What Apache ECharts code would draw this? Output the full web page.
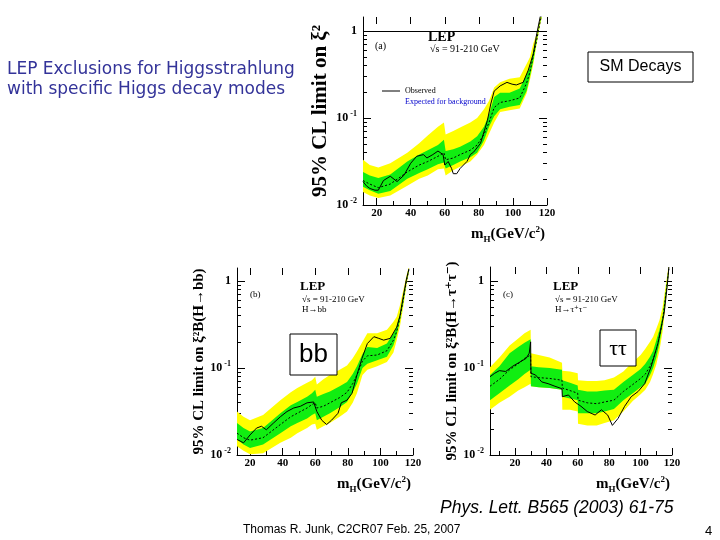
<!DOCTYPE html>
<html>
<head>
<meta charset="utf-8">
<script src="https://cdn.jsdelivr.net/npm/echarts@6/dist/echarts.min.js"></script>
<style>
  html, body { margin: 0; padding: 0; background: #fff; }
  #chart { width: 720px; height: 540px; }
</style>
</head>
<body>
<div id="chart"></div>
<script>
// ---- data ----
// (a) SM decays
const massA      = [12, 16, 21, 28, 38, 45, 50, 56, 59.5, 60.5, 65, 69, 75, 79, 83, 86, 89, 92.5, 98, 104, 108, 110, 112, 114, 116, 117];
const yellowHiA  = [0.0331, 0.0288, 0.0269, 0.0302, 0.0398, 0.0513, 0.0631, 0.0794, 0.0891, 0.0646, 0.0708, 0.0776, 0.0891, 0.100, 0.126, 0.158, 0.224, 0.257, 0.282, 0.295, 0.417, 0.501, 0.724, 0.933, 1.45, 1.74];
const yellowLoA  = [0.0141, 0.0129, 0.0120, 0.0129, 0.0166, 0.0200, 0.0219, 0.0257, 0.0263, 0.0219, 0.0251, 0.0275, 0.0316, 0.0380, 0.0490, 0.0661, 0.0891, 0.117, 0.123, 0.129, 0.191, 0.275, 0.417, 0.724, 1.20, 1.45];
const greenHiA   = [0.0240, 0.0219, 0.0204, 0.0224, 0.0316, 0.0380, 0.0427, 0.0490, 0.0562, 0.0417, 0.0437, 0.0468, 0.0537, 0.0617, 0.0794, 0.110, 0.174, 0.195, 0.195, 0.219, 0.316, 0.389, 0.603, 0.832, 1.32, 1.58];
const greenLoA   = [0.0162, 0.0148, 0.0135, 0.0145, 0.0200, 0.0234, 0.0257, 0.0295, 0.0309, 0.0263, 0.0288, 0.0316, 0.0355, 0.0398, 0.0550, 0.0794, 0.105, 0.126, 0.135, 0.141, 0.204, 0.302, 0.457, 0.776, 1.26, 1.51];
const expectedA  = [0.0191, 0.0174, 0.0158, 0.0174, 0.0240, 0.0288, 0.0316, 0.0363, 0.0398, 0.0331, 0.0347, 0.0380, 0.0427, 0.0490, 0.0646, 0.0891, 0.132, 0.151, 0.158, 0.170, 0.251, 0.339, 0.525, 0.794, 1.29, 1.55];
const obsMassA   = [12, 14, 16, 19, 21, 24, 28, 32, 36, 40, 43.5, 47.5, 49.5, 53, 56, 59, 60, 62, 64, 65, 67, 69, 73, 75, 77, 81, 85, 87, 89, 92.5, 96.5, 99.5, 102, 106, 109, 112, 114, 116, 117];
const observedA  = [0.0186, 0.0166, 0.0155, 0.0148, 0.0148, 0.0191, 0.0214, 0.0186, 0.0219, 0.0302, 0.0363, 0.0380, 0.0347, 0.0380, 0.0417, 0.0380, 0.0288, 0.0316, 0.0263, 0.0229, 0.0229, 0.0263, 0.0316, 0.0380, 0.0407, 0.0513, 0.0933, 0.145, 0.204, 0.234, 0.257, 0.245, 0.240, 0.257, 0.355, 0.550, 0.933, 1.45, 1.74];

// (b) H -> bb
const massB      = [12, 16, 20, 28, 38.6, 45, 49, 55, 58, 60, 61, 65, 69, 75, 79.5, 83, 85.6, 89, 92, 98, 104, 108, 110, 112, 114, 116, 117.5];
const yellowHiB  = [0.0316, 0.0275, 0.0251, 0.0288, 0.0427, 0.0525, 0.0589, 0.0676, 0.0724, 0.0794, 0.0646, 0.0741, 0.0832, 0.0955, 0.107, 0.129, 0.155, 0.200, 0.251, 0.251, 0.275, 0.339, 0.389, 0.525, 0.776, 1.15, 1.48];
const yellowLoB  = [0.0126, 0.0112, 0.0102, 0.0105, 0.0138, 0.0158, 0.0178, 0.0204, 0.0224, 0.0229, 0.0195, 0.0214, 0.0234, 0.0275, 0.0316, 0.0398, 0.0513, 0.0832, 0.0955, 0.105, 0.117, 0.151, 0.209, 0.302, 0.501, 0.891, 1.26];
const greenHiB   = [0.0234, 0.0204, 0.0186, 0.0204, 0.0302, 0.0372, 0.0407, 0.0468, 0.0513, 0.0562, 0.0468, 0.0501, 0.0537, 0.0617, 0.0692, 0.0851, 0.105, 0.145, 0.174, 0.170, 0.191, 0.251, 0.295, 0.417, 0.661, 1.05, 1.38];
const greenLoB   = [0.0151, 0.0132, 0.0120, 0.0132, 0.0178, 0.0214, 0.0234, 0.0263, 0.0288, 0.0302, 0.0251, 0.0275, 0.0302, 0.0355, 0.0407, 0.0525, 0.0661, 0.100, 0.112, 0.123, 0.135, 0.182, 0.240, 0.355, 0.562, 0.977, 1.32];
const expectedB  = [0.0178, 0.0158, 0.0148, 0.0158, 0.0224, 0.0275, 0.0302, 0.0347, 0.0380, 0.0398, 0.0347, 0.0363, 0.0398, 0.0457, 0.0525, 0.0661, 0.0832, 0.120, 0.138, 0.141, 0.158, 0.209, 0.263, 0.380, 0.603, 1.00, 1.35];
const obsMassB   = [12, 16, 20, 24, 27, 30, 34.5, 38.6, 42.7, 46.8, 50.9, 55, 59, 61, 64, 67, 70, 74, 76, 79.5, 82.6, 85.6, 88.7, 92, 96, 99, 102, 106, 110, 112, 114, 116, 117.5];
const observedB  = [0.0151, 0.0138, 0.0170, 0.0204, 0.0214, 0.0195, 0.0234, 0.0275, 0.0316, 0.0347, 0.0363, 0.0398, 0.0407, 0.0316, 0.0251, 0.0224, 0.0251, 0.0302, 0.0398, 0.0427, 0.0513, 0.0832, 0.129, 0.191, 0.229, 0.219, 0.209, 0.219, 0.295, 0.398, 0.661, 1.05, 1.38];

// (c) H -> tau tau
const massC      = [4, 10, 16.5, 22, 26, 29.9, 30.1, 35, 42, 49.9, 50.1, 55, 59.9, 60.1, 66, 72, 77, 83, 89, 95, 100, 103, 106, 108, 110, 112, 114, 116, 118];
const yellowHiC  = [0.102, 0.132, 0.182, 0.219, 0.251, 0.275, 0.148, 0.141, 0.132, 0.115, 0.0933, 0.0912, 0.0871, 0.0724, 0.0708, 0.0708, 0.0724, 0.0776, 0.0912, 0.117, 0.141, 0.166, 0.200, 0.229, 0.282, 0.355, 0.501, 0.891, 1.58];
const yellowLoC  = [0.0331, 0.0398, 0.0468, 0.0550, 0.0603, 0.0661, 0.0617, 0.0603, 0.0589, 0.0562, 0.0331, 0.0331, 0.0316, 0.0229, 0.0219, 0.0219, 0.0234, 0.0251, 0.0316, 0.0417, 0.0501, 0.0562, 0.0692, 0.0851, 0.110, 0.158, 0.263, 0.562, 1.26];
const greenHiC   = [0.0832, 0.105, 0.148, 0.174, 0.195, 0.214, 0.105, 0.102, 0.100, 0.0955, 0.0724, 0.0676, 0.0631, 0.0562, 0.0537, 0.0537, 0.0550, 0.0562, 0.0692, 0.0832, 0.0977, 0.112, 0.135, 0.158, 0.209, 0.275, 0.398, 0.759, 1.45];
const greenLoC   = [0.0427, 0.0513, 0.0631, 0.0741, 0.0851, 0.0955, 0.0617, 0.0603, 0.0589, 0.0562, 0.0468, 0.0447, 0.0427, 0.0302, 0.0302, 0.0302, 0.0316, 0.0339, 0.0427, 0.0513, 0.0603, 0.0661, 0.0832, 0.100, 0.132, 0.191, 0.316, 0.631, 1.32];
const expectedC  = [0.0617, 0.0741, 0.0955, 0.112, 0.129, 0.141, 0.0794, 0.0776, 0.0759, 0.0724, 0.0589, 0.0550, 0.0513, 0.0427, 0.0398, 0.0389, 0.0407, 0.0427, 0.0537, 0.0646, 0.0759, 0.0851, 0.105, 0.126, 0.162, 0.229, 0.355, 0.692, 1.38];
const obsMassC   = [4, 7, 10, 14, 18.5, 23, 27, 29, 29.9, 30.1, 33, 37, 41, 45.4, 48.6, 49.9, 50.1, 54, 58, 62, 66, 71, 75, 79, 82, 83, 85.6, 89.8, 94, 98.4, 102.6, 106.8, 111, 115, 117, 118];
const observedC  = [0.0794, 0.0871, 0.0933, 0.0912, 0.105, 0.117, 0.129, 0.148, 0.200, 0.0871, 0.0832, 0.0692, 0.0661, 0.0617, 0.0589, 0.0575, 0.0468, 0.0490, 0.0407, 0.0363, 0.0316, 0.0288, 0.0331, 0.0288, 0.0219, 0.0214, 0.0263, 0.0363, 0.0468, 0.0537, 0.0661, 0.105, 0.191, 0.427, 0.891, 1.45];

// ticks
const xMajorTicks = [20, 40, 60, 80, 100, 120];
const xMinorTicks = [10, 30, 50, 70, 90, 110];
const yMajorTicks = [0.01, 0.1, 1];
const yMinorTicks = [0.02, 0.03, 0.04, 0.05, 0.06, 0.07, 0.08, 0.09, 0.2, 0.3, 0.4, 0.5, 0.6, 0.7, 0.8, 0.9];

const SERIF = '"Liberation Serif", "DejaVu Serif", serif';
const SANS = '"Liberation Sans", Arial, sans-serif';
const YELLOW = '#ffff00';
const GREEN = '#11ee11';

const panels = [
  { grid: { left: 363, top: 17, width: 184, height: 188 }, xmin: 12, ymax: 1.45, yName: '95% CL limit on ξ²', yNameSize: 21, yGap: 32 },
  { grid: { left: 237, top: 268, width: 176, height: 187 }, xmin: 12, ymax: 1.41, yName: '95% CL limit on ξ²B(H→bb)', yNameSize: 15, yGap: 30 },
  { grid: { left: 490, top: 267, width: 182, height: 188 }, xmin: 4, ymax: 1.45, yName: '95% CL limit on ξ²B(H→τ⁺τ⁻)', yNameSize: 15, yGap: 30 }
];

function yLabel(v) {
  if (v > 0.5) return '{n|1}';
  return '{n|10}{s|' + Math.round(Math.log10(v)) + '}';
}

function buildX(gi, p) {
  const base = { gridIndex: gi, type: 'value', min: p.xmin, max: 120, splitLine: { show: false } };
  return [
    Object.assign({}, base, {
      position: 'bottom',
      axisLine: { onZero: false, lineStyle: { color: '#000', width: 1 } },
      axisTick: { inside: true, length: 7, customValues: xMajorTicks, lineStyle: { color: '#000' } },
      axisLabel: { customValues: xMajorTicks, color: '#000', fontFamily: SERIF, fontWeight: 'bold', fontSize: 11, margin: 3 },
      name: '{m|m}{h|H}{m|(GeV/c}{p|2}{m|)}',
      nameLocation: 'end', nameGap: -2,
      nameTextStyle: {
        align: 'right', verticalAlign: 'top', padding: [20, 0, 0, 0],
        rich: {
          m: { fontFamily: SERIF, fontWeight: 'bold', fontSize: 15, color: '#000' },
          h: { fontFamily: SERIF, fontWeight: 'bold', fontSize: 9, color: '#000', padding: [10, 0, 0, 0] },
          p: { fontFamily: SERIF, fontWeight: 'bold', fontSize: 9, color: '#000', padding: [0, 0, 10, 0] }
        }
      }
    }),
    Object.assign({}, base, {
      position: 'bottom',
      axisLine: { show: false, onZero: false },
      axisTick: { inside: true, length: 4, customValues: xMinorTicks, lineStyle: { color: '#000' } },
      axisLabel: { show: false }
    }),
    Object.assign({}, base, {
      position: 'top',
      axisLine: { show: false, onZero: false },
      axisTick: { inside: true, length: 7, customValues: xMajorTicks, lineStyle: { color: '#000' } },
      axisLabel: { show: false }
    })
  ];
}

function buildY(gi, p) {
  const base = { gridIndex: gi, type: 'log', logBase: 10, min: 0.01, max: p.ymax, splitLine: { show: false } };
  const major = (pos) => Object.assign({}, base, {
    position: pos,
    axisLine: { show: pos === 'left', onZero: false, lineStyle: { color: '#000', width: 1 } },
    axisTick: { inside: true, length: 8, customValues: yMajorTicks, lineStyle: { color: '#000' } },
    axisLabel: pos === 'left' ? {
      customValues: yMajorTicks, formatter: yLabel, margin: 6,
      rich: {
        n: { fontFamily: SERIF, fontWeight: 'bold', fontSize: 12, color: '#000' },
        s: { fontFamily: SERIF, fontWeight: 'bold', fontSize: 8, color: '#000', padding: [0, 0, 9, 2] }
      }
    } : { show: false }
  });
  const minor = (pos) => Object.assign({}, base, {
    position: pos,
    axisLine: { show: false, onZero: false },
    axisTick: { inside: true, length: 4, customValues: yMinorTicks, lineStyle: { color: '#000' } },
    axisLabel: { show: false }
  });
  const left = major('left');
  left.name = p.yName;
  left.nameLocation = 'middle';
  left.nameRotate = 90;
  left.nameGap = p.yGap;
  left.nameTextStyle = { fontFamily: SERIF, fontWeight: 'bold', fontSize: p.yNameSize, color: '#000' };
  return [left, minor('left'), major('right'), minor('right')];
}

function bandSeries(gi, mass, hi, lo, color) {
  return {
    type: 'custom',
    xAxisIndex: gi * 3, yAxisIndex: gi * 4,
    data: [0],
    silent: true,
    z: 1,
    renderItem: function (params, api) {
      const pts = [];
      for (let i = 0; i < mass.length; i++) pts.push(api.coord([mass[i], hi[i]]));
      for (let i = mass.length - 1; i >= 0; i--) pts.push(api.coord([mass[i], lo[i]]));
      const cs = params.coordSys;
      return {
        type: 'polygon',
        shape: { points: pts },
        style: { fill: color, stroke: null },
        clipPath: { type: 'rect', shape: { x: cs.x, y: cs.y, width: cs.width, height: cs.height } }
      };
    }
  };
}

function lineSeries(gi, mass, vals, dashed) {
  return {
    type: 'line',
    xAxisIndex: gi * 3, yAxisIndex: gi * 4,
    data: mass.map((m, i) => [m, vals[i]]),
    showSymbol: false,
    silent: true,
    clip: true,
    z: dashed ? 3 : 4,
    lineStyle: { color: '#000', width: 1, type: dashed ? [2, 2] : 'solid' }
  };
}

const bands = [
  [massA, yellowHiA, yellowLoA, greenHiA, greenLoA, expectedA, obsMassA, observedA],
  [massB, yellowHiB, yellowLoB, greenHiB, greenLoB, expectedB, obsMassB, observedB],
  [massC, yellowHiC, yellowLoC, greenHiC, greenLoC, expectedC, obsMassC, observedC]
];

const xAxes = [], yAxes = [], series = [];
panels.forEach((p, gi) => {
  xAxes.push(...buildX(gi, p));
  yAxes.push(...buildY(gi, p));
  const b = bands[gi];
  series.push(bandSeries(gi, b[0], b[1], b[2], YELLOW));
  series.push(bandSeries(gi, b[0], b[3], b[4], GREEN));
  series.push(lineSeries(gi, b[0], b[5], true));
  const obs = lineSeries(gi, b[6], b[7], false);
  if (gi === 0) {
    obs.markLine = {
      silent: true, symbol: 'none', label: { show: false },
      lineStyle: { color: '#000', width: 1, type: 'solid' },
      data: [{ yAxis: 1 }]
    };
  }
  series.push(obs);
});

function txt(x, y, text, font, fill, extra) {
  return {
    type: 'text', x: x, y: y, z: 10,
    style: Object.assign({ text: text, font: font, fill: fill || '#000', textVerticalAlign: 'middle' }, extra || {})
  };
}

const graphics = [
  // slide text
  txt(7, 80, 'LEP Exclusions for Higgsstrahlung\nwith specific Higgs decay modes', '17px "Comic Sans MS", "DejaVu Sans", sans-serif', '#333399', { lineHeight: 20 }),
  { type: 'rect', z: 10, shape: { x: 588, y: 52, width: 105, height: 30 }, style: { fill: '#fff', stroke: '#000', lineWidth: 1 } },
  txt(640.5, 67, 'SM Decays', '16px ' + SANS, '#000', { textAlign: 'center' }),
  txt(440, 508, 'Phys. Lett. B565 (2003) 61-75', 'italic 17.5px ' + SANS, '#000'),
  txt(243, 530, 'Thomas R. Junk, C2CR07 Feb. 25, 2007', '12px ' + SANS, '#000'),
  txt(705, 531, '4', '13px ' + SANS, '#000'),

  // panel (a)
  txt(375, 46, '(a)', '10px ' + SERIF),
  txt(428, 37, 'LEP', 'bold 14px ' + SERIF),
  txt(430, 49, '√s = 91-210 GeV', '10px ' + SERIF),
  { type: 'line', z: 10, shape: { x1: 382, y1: 91, x2: 400, y2: 91 }, style: { stroke: '#000', lineWidth: 1 } },
  txt(405, 91, 'Observed', '8px ' + SERIF),
  txt(405, 102, 'Expected for background', '8px ' + SERIF, '#0000cc'),

  // panel (b)
  txt(250, 295, '(b)', '9px ' + SERIF),
  txt(300, 287, 'LEP', 'bold 13px ' + SERIF),
  txt(302, 300, '√s = 91-210 GeV', '9px ' + SERIF),
  txt(302, 310, 'H→bb', '9px ' + SERIF),
  { type: 'rect', z: 10, shape: { x: 290, y: 334, width: 47, height: 41 }, style: { fill: '#fff', stroke: '#000', lineWidth: 1 } },
  txt(313.5, 355, 'bb', '26px ' + SANS, '#000', { textAlign: 'center' }),

  // panel (c)
  txt(503, 295, '(c)', '9px ' + SERIF),
  txt(553, 287, 'LEP', 'bold 13px ' + SERIF),
  txt(555, 300, '√s = 91-210 GeV', '9px ' + SERIF),
  txt(555, 310, 'H→τ⁺τ⁻', '9px ' + SERIF),
  { type: 'rect', z: 10, shape: { x: 600, y: 330, width: 36, height: 36 }, style: { fill: '#fff', stroke: '#000', lineWidth: 1 } },
  txt(618, 349, 'ττ', '22px ' + SERIF, '#000', { textAlign: 'center' })
];

const chart = echarts.init(document.getElementById('chart'), null, { renderer: 'canvas' });
chart.setOption({
  backgroundColor: '#fff',
  animation: false,
  grid: panels.map(p => Object.assign({ containLabel: false }, p.grid)),
  xAxis: xAxes,
  yAxis: yAxes,
  series: series,
  graphic: graphics
});
</script>
</body>
</html>
